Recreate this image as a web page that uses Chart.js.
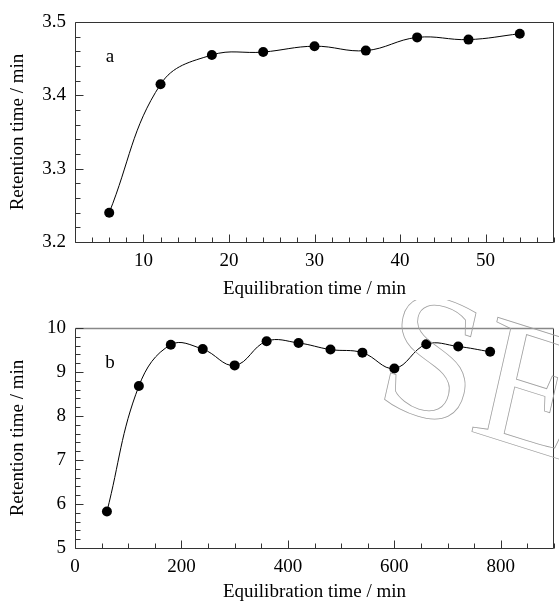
<!DOCTYPE html>
<html>
<head>
<meta charset="utf-8">
<script src="https://cdn.jsdelivr.net/npm/chart.js@4.4.1/dist/chart.umd.min.js"></script>
<style>
  html, body { margin: 0; padding: 0; background: #fff; }
  .panel { position: absolute; left: 0; width: 559px; }
  #panelA { top: 0; height: 300px; }
  #panelB { top: 300px; height: 303px; }
</style>
</head>
<body>
<div class="panel" id="panelA"><canvas id="chartA"></canvas></div>
<div class="panel" id="panelB"><canvas id="chartB"></canvas></div>
<script>
// panel a : short equilibration
const timeA = [6, 12, 18, 24, 30, 36, 42, 48, 54];
const retentionA = [3.240, 3.415, 3.455, 3.459, 3.467, 3.461, 3.479, 3.476, 3.484];

// panel b : long equilibration
const timeB = [60, 120, 180, 240, 300, 360, 420, 480, 540, 600, 660, 720, 780];
const retentionB = [5.83, 8.68, 9.62, 9.52, 9.15, 9.70, 9.66, 9.51, 9.44, 9.08, 9.63, 9.58, 9.46];

const xTitle = "Equilibration time / min";
const yTitle = "Retention time / min";

const FONT = "'Liberation Serif', 'Times New Roman', serif";

// frame, inward ticks and panel letter
const framePlugin = {
    id: "frame",
    afterDraw(chart, args, opts) {
        const ctx = chart.ctx;
        const { left, top, right, bottom } = chart.chartArea;
        const x = chart.scales.x, y = chart.scales.y;
        const L = Math.round(left) + 0.5, T = Math.round(top) + 0.5;
        const R = Math.round(right) - 0.5, B = Math.round(bottom) + 0.5;
        ctx.save();
        ctx.lineWidth = 1;
        ctx.strokeStyle = "#333";
        ctx.beginPath();
        ctx.moveTo(R, T); ctx.lineTo(R, B); ctx.lineTo(L, B); ctx.lineTo(L, T);
        ctx.stroke();
        ctx.strokeStyle = opts.topColor || "#333";
        ctx.lineWidth = opts.topWidth || 1;
        ctx.beginPath();
        ctx.moveTo(L, T); ctx.lineTo(R, T);
        ctx.stroke();

        ctx.strokeStyle = "#333";
        ctx.lineWidth = 1;
        const tick = (scale, minor, major, draw) => {
            const start = Math.ceil(scale.min / minor - 1e-9) * minor;
            for (let v = start; v <= scale.max + 1e-9; v += minor) {
                const r = v / major;
                const isMajor = Math.abs(r - Math.round(r)) < 1e-6;
                draw(Math.round(scale.getPixelForValue(v)) + 0.5, isMajor ? 8 : 5);
            }
        };
        ctx.beginPath();
        tick(x, opts.xMinor, opts.xMajor, (px, len) => {
            ctx.moveTo(px, B); ctx.lineTo(px, B - len);
        });
        tick(y, opts.yMinor, opts.yMajor, (py, len) => {
            ctx.moveTo(L, py); ctx.lineTo(L + len, py);
        });
        ctx.stroke();

        ctx.fillStyle = "#000";
        ctx.font = "19px " + FONT;
        ctx.textAlign = "center";
        ctx.textBaseline = "middle";
        ctx.fillText(opts.label, left + 35, top + 35);

        if (opts.watermark) {
            // faint outlined publisher mark, tilted
            ctx.setTransform(0.95, 0.30, -0.22, 0.97, 372, 100);
            ctx.font = "180px " + FONT;
            ctx.textAlign = "left";
            ctx.textBaseline = "alphabetic";
            ctx.strokeStyle = "#a0a0a0";
            ctx.lineWidth = 0.8;
            ctx.strokeText("SE", 0, 0);
        }
        ctx.restore();
    }
};

function makeChart(id, xs, ys, cfg) {
    return new Chart(document.getElementById(id), {
        type: "line",
        data: {
            datasets: [{
                data: xs.map((t, i) => ({ x: t, y: ys[i] })),
                borderColor: "#000",
                borderWidth: 1,
                tension: 0.4,
                pointRadius: 5,
                pointBackgroundColor: "#000",
                pointBorderWidth: 0,
                fill: false
            }]
        },
        options: {
            responsive: true,
            maintainAspectRatio: false,
            animation: false,
            layout: { padding: { left: 0, right: 1, top: cfg.top, bottom: 0 } },
            plugins: {
                legend: { display: false },
                tooltip: { enabled: false },
                frame: cfg.frame
            },
            scales: {
                x: {
                    type: "linear",
                    min: cfg.xMin, max: cfg.xMax,
                    grid: { display: false, drawTicks: false },
                    border: { display: false },
                    ticks: {
                        stepSize: cfg.frame.xMajor,
                        includeBounds: false,
                        padding: 8,
                        color: "#000",
                        font: { family: FONT, size: 19 }
                    },
                    title: { display: true, text: xTitle, color: "#000", padding: 0, font: { family: FONT, size: 19 } },
                    afterFit: s => { s.height = cfg.xHeight; }
                },
                y: {
                    min: cfg.yMin, max: cfg.yMax,
                    grid: { display: false, drawTicks: false },
                    border: { display: false },
                    ticks: {
                        stepSize: cfg.frame.yMajor,
                        includeBounds: false,
                        padding: 9,
                        color: "#000",
                        font: { family: FONT, size: 19 },
                        callback: v => cfg.yFmt(v)
                    },
                    title: { display: true, text: yTitle, color: "#000", padding: { top: 7, bottom: 0 }, font: { family: FONT, size: 19 } },
                    afterFit: s => { s.width = 75; }
                }
            }
        },
        plugins: [framePlugin]
    });
}

makeChart("chartA", timeA, retentionA, {
    top: 22, xHeight: 58,
    xMin: 2, xMax: 58, yMin: 3.2, yMax: 3.5,
    yFmt: v => v.toFixed(1),
    frame: { label: "a", xMajor: 10, xMinor: 2, yMajor: 0.1, yMinor: 0.02 }
});

makeChart("chartB", timeB, retentionB, {
    top: 28, xHeight: 55,
    xMin: 0, xMax: 900, yMin: 5, yMax: 10,
    yFmt: v => String(v),
    frame: { label: "b", xMajor: 200, xMinor: 50, yMajor: 1, yMinor: 0.2,
             topColor: "#888", topWidth: 1.5, watermark: true }
});
</script>
</body>
</html>
